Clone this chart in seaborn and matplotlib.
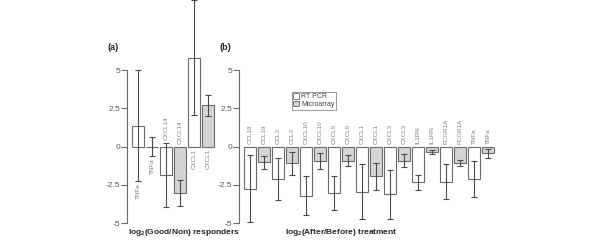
import pandas as pd
import numpy as np
import matplotlib
matplotlib.use('Agg')
import matplotlib.pyplot as plt
import matplotlib.patches as mpatches
import seaborn as sns

# Panel (a): log2(Good/Non) responders
genes_a = ['TNFa', 'TNFa', 'CXCL14', 'CXCL14', 'CXCL1', 'CXCL1']
method_a = ['RT PCR', 'Microarray', 'RT PCR', 'Microarray', 'RT PCR', 'Microarray']
mean_a = [1.36, 0.0, -1.85, -3.05, 5.8, 2.7]
sd_a = [3.64, 0.65, 2.1, 0.87, 3.75, 0.68]

# Panel (b): log2(After/Before) treatment
genes_b = ['CCL19', 'CCL19', 'CCL3', 'CCL3', 'CXCL10', 'CXCL10', 'CXCL9', 'CXCL9',
           'CXCL1', 'CXCL1', 'CXCL3', 'CXCL3', 'IL1RN', 'IL1RN', 'FCGR1A', 'FCGR1A',
           'TNFa', 'TNFa']
method_b = ['RT PCR', 'Microarray'] * 9
mean_b = [-2.75, -1.04, -2.12, -1.11, -3.22, -0.97, -3.03, -0.93, -2.95, -1.95,
          -3.13, -0.93, -2.35, -0.37, -2.3, -1.05, -2.12, -0.44]
sd_b = [2.2, 0.42, 1.35, 0.78, 1.28, 0.52, 1.1, 0.37, 1.8, 0.9,
        1.58, 0.43, 0.48, 0.13, 1.13, 0.2, 1.2, 0.3]

yticks = [-5, -2.5, 0, 2.5, 5]
ytick_labels = ['-5', '-2.5', '0', '2.5', '5']

sns.set_style('white')
plt.rcParams['font.family'] = ['Liberation Sans', 'DejaVu Sans']
plt.rcParams['mathtext.default'] = 'regular'

palette = {'RT PCR': 'white', 'Microarray': '#d4d4d4'}
edge = '#6a6a6a'
txt_gray = '#808080'

fig = plt.figure(figsize=(6, 2.41), dpi=100)
W, H = 600, 241
bottom = (H - 223) / H
height = (223 - 70) / H
step = 14.0  # px per bar slot


def draw_panel(ax, genes, methods, means, sds, width_px):
    df = pd.DataFrame({'bar': np.arange(len(genes)), 'gene': genes,
                       'method': methods, 'value': means, 'sd': sds})
    sns.barplot(data=df, x='bar', y='value', hue='method', dodge=False,
                palette=palette, width=0.85, edgecolor=edge, linewidth=0.8,
                errorbar=None, legend=False, ax=ax)
    for p in ax.patches:
        p.set_clip_on(False)
    eb = ax.errorbar(df['bar'], df['value'], yerr=df['sd'], fmt='none',
                     ecolor='#4a4a4a', elinewidth=0.8, capsize=2.2, capthick=0.8)
    for a in eb.get_children():
        a.set_clip_on(False)

    # gene labels: on the side opposite to the bar, clear of the error bar
    for i, row in df.iterrows():
        if row['value'] >= 0:
            y = min(0, row['value'] - row['sd']) - 0.15
            va = 'top'
        else:
            y = max(0, row['value'] + row['sd']) + 0.15
            va = 'bottom'
        ax.text(i, y, row['gene'], rotation=90, ha='center', va=va,
                fontsize=4.5, color=txt_gray, clip_on=False)

    ax.set_ylim(-5, 5)
    ax.set_xlim(-11 / step, -11 / step + width_px / step)
    ax.set_yticks(yticks)
    ax.set_yticklabels(ytick_labels)
    ax.set_xticks([])
    ax.set_xlabel('')
    ax.set_ylabel('')
    for s in ['top', 'right', 'bottom']:
        ax.spines[s].set_visible(False)
    ax.spines['left'].set_color(edge)
    ax.spines['left'].set_linewidth(0.8)
    ax.tick_params(axis='y', direction='out', length=4, width=0.8, color=edge,
                   labelsize=6, labelcolor='#555555', pad=1, left=True)
    ax.patch.set_visible(False)


ax_a = fig.add_axes([127 / W, bottom, 100 / W, height])
draw_panel(ax_a, genes_a, method_a, mean_a, sd_a, 100)

ax_b = fig.add_axes([239 / W, bottom, 265 / W, height])
draw_panel(ax_b, genes_b, method_b, mean_b, sd_b, 265)

# Panel letters
fig.text(107 / W, 1 - 48 / H, '(a)', fontsize=6.5, fontweight='bold', va='center')
fig.text(220 / W, 1 - 48 / H, '(b)', fontsize=6.5, fontweight='bold', va='center')

# Axis titles
fig.text(184 / W, 1 - 233 / H, r'log$_2$(Good/Non) responders', fontsize=6,
         fontweight='bold', ha='center', va='center')
fig.text(341 / W, 1 - 233 / H, r'log$_2$(After/Before) treatment', fontsize=6,
         fontweight='bold', ha='center', va='center')

# Legend
handles = [mpatches.Patch(facecolor=palette[m], edgecolor=edge, linewidth=0.6, label=m)
           for m in ['RT PCR', 'Microarray']]
leg = fig.legend(handles=handles, loc='upper left',
                 bbox_to_anchor=(292 / W, 1 - 92 / H), fontsize=5, frameon=True,
                 fancybox=False, edgecolor=edge, handlelength=0.8, handleheight=0.8,
                 borderpad=0.2, labelspacing=0.1, handletextpad=0.3, borderaxespad=0)
leg.get_frame().set_linewidth(0.6)
for t in leg.get_texts():
    t.set_color('#444444')

fig.savefig('out.png', dpi=100)
